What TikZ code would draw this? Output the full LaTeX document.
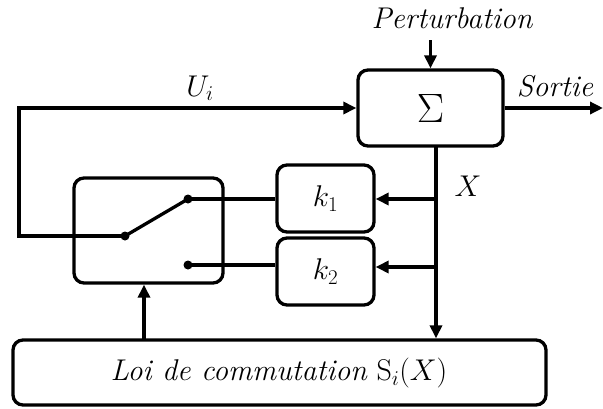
\RequirePackage{fix-cm}
\documentclass[tikz,border=0pt]{standalone}
\usetikzlibrary{arrows.meta}
\begin{document}
\begin{tikzpicture}[x=1pt,y=-1pt,line width=3.3pt,
  box/.style={draw,rounded corners=10pt,inner sep=0pt},
  arr/.style={-{Triangle[length=13pt,width=12pt]}},
  lbl/.style={font=\fontsize{30}{32}\selectfont\itshape},
  dot/.style={circle,fill,inner sep=0pt,minimum size=9pt}]
\useasboundingbox (0,0) rectangle (603,408);
% blocks
\node[box,minimum width=145pt,minimum height=76pt,font=\fontsize{41}{43}\selectfont] (sum) at (430.5,108) {$\Sigma$};
\node[box,minimum width=149pt,minimum height=105pt] (sw) at (148.5,230.5) {};
\node[box,minimum width=97pt,minimum height=67pt,font=\fontsize{30}{32}\selectfont] (k1) at (325.5,198.5) {$k_1$};
\node[box,minimum width=97pt,minimum height=67pt,font=\fontsize{30}{32}\selectfont] (k2) at (325.5,271.5) {$k_2$};
\node[box,minimum width=533pt,minimum height=65pt] (law) at (279.5,372.5) {};
\node[font=\fontsize{30}{32}\selectfont] (lawt) at (279,373) {\textit{Loi de commutation}~$\mathrm{S}_i(X)$};
% labels
\node[lbl] (pert) at (452,18) {Perturbation};
\node[lbl] (sortie) at (555,86) {Sortie};
\node[font=\fontsize{30}{32}\selectfont] (ui) at (200,88) {$U_i$};
\node[font=\fontsize{30}{32}\selectfont] (xl) at (468,186) {$X$};
% coordinates
\coordinate (ptop) at (430.5,40);
\coordinate (out) at (603,108);
\coordinate (c1) at (19,108);
\coordinate (piv) at (125,236);
\coordinate (up) at (188,199);
\coordinate (lo) at (188,265);
\coordinate (xs) at (436,146);
\coordinate (b1) at (436,199);
\coordinate (b2) at (436,267);
\coordinate (la) at (144,340);
% switch
\node[dot] (pivd) at (piv) {};
\node[dot] (upd) at (up) {};
\node[dot] (lod) at (lo) {};
\draw (piv) -- (up);
\draw (up) -- (k1.west |- up);
\draw (lo) -- (k2.west |- lo);
% connectors
\draw[arr] (ptop) -- (sum.north);
\draw[arr] (sum.east) -- (out);
\draw[arr] (piv) -| (c1) -- (sum.west);
\draw[arr] (xs) -- (xs |- law.north);
\draw[arr] (b1) -- (k1.east |- b1);
\draw[arr] (b2) -- (k2.east |- b2);
\draw[arr] (la) -- (la |- sw.south);
\end{tikzpicture}
\end{document}
